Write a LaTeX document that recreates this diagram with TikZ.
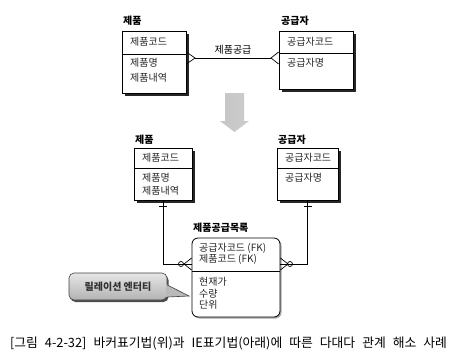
\documentclass[tikz,border=0pt]{standalone}
\usepackage{fontspec}
\setmainfont{Noto Sans CJK KR}
\usetikzlibrary{shadows, calc}

\begin{document}
\begin{tikzpicture}[
    x=1pt, y=-1pt,
    font=\fontsize{10}{12}\selectfont,
    ent/.style={draw, line width=0.8pt, fill=white, inner sep=0pt,
                drop shadow={shadow xshift=3pt, shadow yshift=-3pt, fill=black!85, opacity=1}},
    dep/.style={draw, line width=0.8pt, fill=white, inner sep=0pt, rounded corners=6pt,
                drop shadow={shadow xshift=1.5pt, shadow yshift=-1.5pt, fill=black!35, opacity=1}},
    ttl/.style={anchor=west, inner sep=0pt, font=\fontsize{10}{12}\selectfont\bfseries},
    attr/.style={anchor=west, inner sep=0pt, text=black!85},
    rel/.style={line width=0.7pt},
    note/.style={draw=black!75, line width=0.6pt, rounded corners=5pt, top color=gray!20, bottom color=gray!60,
                 minimum width=98pt, minimum height=27pt, inner sep=0pt,
                 font=\fontsize{10}{12}\selectfont\bfseries, text=black!80,
                 drop shadow={shadow xshift=1.5pt, shadow yshift=-2pt, fill=black!70, opacity=1}},
]
\useasboundingbox (0,0) rectangle (459,360);

% Barker notation (top): two entities joined by a many-to-many relation
\node[ent, minimum width=64pt, minimum height=62pt] (prodA) at (154,62) {};
\node[ent, minimum width=74pt, minimum height=58pt] (suppA) at (316,60) {};
\node[ttl] (prodAt) at (123,21) {제품};
\node[ttl] (suppAt) at (281,21) {공급자};
\draw[line width=0.8pt] (prodA.west |- 0,54) -- (prodA.east |- 0,54);
\draw[line width=0.8pt] (suppA.west |- 0,53) -- (suppA.east |- 0,53);
\node[attr] (pcodeA) at (130,42) {제품코드};
\node[attr] (pnameA) at (130,63) {제품명};
\node[attr] (pdescA) at (130,78) {제품내역};
\node[attr] (scodeA) at (287,42) {공급자코드};
\node[attr] (snameA) at (287,63) {공급자명};
% relation line with crow's feet on both ends
\coordinate (bkL) at (195,58);
\coordinate (bkR) at (271,58);
\draw[rel] (bkL) -- node[above=3pt, inner sep=0pt] (relA) {제품공급} (bkR);
\draw[rel] (prodA.east |- 0,52) -- (bkL) -- (prodA.east |- 0,64);
\draw[rel] (suppA.west |- 0,52) -- (bkR) -- (suppA.west |- 0,64);

% conversion arrow
\shade[left color=gray!45, middle color=gray!8, right color=gray!40]
    (225,93) -- (244,93) -- (244,121) -- (249,121) -- (234.5,132) -- (220,121) -- (225,121) -- cycle;

% IE notation (bottom): relation entity resolves the many-to-many
\node[ent, minimum width=58pt, minimum height=52pt] (prodB) at (163,174) {};
\node[ent, minimum width=61pt, minimum height=52pt] (suppB) at (307.5,174) {};
\node[ttl] (prodBt) at (135,140) {제품};
\node[ttl] (suppBt) at (278,140) {공급자};
\draw[line width=0.8pt] (prodB.west |- 0,168) -- (prodB.east |- 0,168);
\draw[line width=0.8pt] (suppB.west |- 0,168) -- (suppB.east |- 0,168);
\node[attr] (pcodeB) at (142,158) {제품코드};
\node[attr] (pnameB) at (142,178) {제품명};
\node[attr] (pdescB) at (142,191) {제품내역};
\node[attr] (scodeB) at (285,158) {공급자코드};
\node[attr] (snameB) at (285,178) {공급자명};

\node[dep, minimum width=88pt, minimum height=79pt] (link) at (236,277.5) {};
\node[ttl] (linkt) at (193,228) {제품공급목록};
\draw[line width=0.8pt] (link.west |- 0,271) -- (link.east |- 0,271);
\node[attr] (fk1) at (199,248) {공급자코드 (FK)};
\node[attr] (fk2) at (199,259) {제품코드 (FK)};
\node[attr] (price) at (199,282) {현재가};
\node[attr] (qty)   at (199,294) {수량};
\node[attr] (unit)  at (199,305) {단위};

% identifying relations: one (bar) on parent side, zero-or-many on child side
\coordinate (fkrow) at (236,264);
\draw[rel] (prodB.south) |- (link.west |- fkrow);
\draw[rel] (suppB.south) |- (link.east |- fkrow);
\draw[rel] (159,206) -- (167,206);
\draw[rel] (303.5,206) -- (311.5,206);
\draw[rel] (link.west |- 0,258) -- (184,264) -- (link.west |- 0,270);
\draw[rel] (181,264) circle (2.5pt);
\draw[rel] (link.east |- 0,258) -- (288,264) -- (link.east |- 0,270);
\draw[rel] (290,264) circle (2.5pt);

% callout
\node[note] (callout) at (118,286.5) {릴레이션 엔터티};
\fill[gray!55] (166,284) -- (189,296) -- (166,297) -- cycle;
\draw[black!75, line width=0.6pt] (callout.east |- 0,285) -- (189,296) -- (callout.east |- 0,297);

% caption
\node[inner sep=0pt, font=\fontsize{12.8}{14}\selectfont] (caption) at (228.5,343)
    {\makebox[437pt][s]{[그림 4-2-32] 바커표기법(위)과 IE표기법(아래)에 따른 다대다 관계 해소 사례}};
\end{tikzpicture}
\end{document}
